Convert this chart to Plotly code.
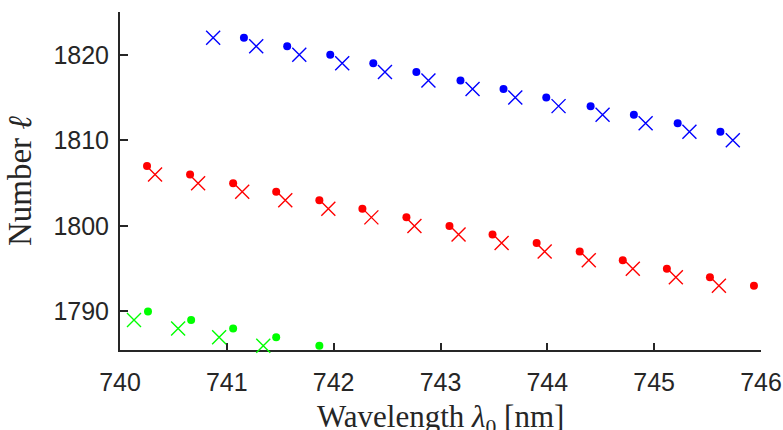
import plotly.graph_objects as go

# Mode numbers and wavelengths (nm)
blue_dot_l = [1822, 1821, 1820, 1819, 1818, 1817, 1816, 1815, 1814, 1813, 1812, 1811]
blue_dot_wl = [741.16, 741.565, 741.968, 742.371, 742.774, 743.187, 743.59, 743.99, 744.405, 744.81, 745.22, 745.62]
blue_x_l = [1822, 1821, 1820, 1819, 1818, 1817, 1816, 1815, 1814, 1813, 1812, 1811, 1810]
blue_x_wl = [740.872, 741.275, 741.678, 742.08, 742.48, 742.887, 743.3, 743.70, 744.105, 744.517, 744.92, 745.33, 745.736]

red_dot_l = [1807, 1806, 1805, 1804, 1803, 1802, 1801, 1800, 1799, 1798, 1797, 1796, 1795, 1794, 1793]
red_dot_wl = [740.253, 740.656, 741.059, 741.462, 741.866, 742.269, 742.681, 743.084, 743.487, 743.9, 744.303, 744.706, 745.119, 745.522, 745.934]
red_x_l = [1806, 1805, 1804, 1803, 1802, 1801, 1800, 1799, 1798, 1797, 1796, 1795, 1794, 1793]
red_x_wl = [740.328, 740.731, 741.144, 741.547, 741.95, 742.353, 742.756, 743.169, 743.572, 743.975, 744.388, 744.8, 745.203, 745.606]

green_dot_l = [1790, 1789, 1788, 1787, 1786]
green_dot_wl = [740.262, 740.666, 741.059, 741.462, 741.866]
green_x_l = [1789, 1788, 1787, 1786]
green_x_wl = [740.131, 740.544, 740.928, 741.341]

x_ticks = [740, 741, 742, 743, 744, 745, 746]
y_ticks = [1790, 1800, 1810, 1820]

x_title = "Wavelength <i>λ</i><sub>0</sub> [nm]"
y_title = "Number <i>ℓ</i>"

fig = go.Figure()

def add(xs, ys, color, kind):
    if kind == "dot":
        marker = dict(symbol="circle", size=8, color=color, line=dict(width=0))
    else:
        marker = dict(symbol="x-thin", size=14, color=color, line=dict(width=1.4, color=color))
    fig.add_trace(go.Scatter(x=xs, y=ys, mode="markers", marker=marker,
                             cliponaxis=False, showlegend=False, hoverinfo="skip"))

add(blue_dot_wl, blue_dot_l, "#0000FF", "dot")
add(blue_x_wl, blue_x_l, "#0000FF", "x")
add(red_dot_wl, red_dot_l, "#FF0000", "dot")
add(red_x_wl, red_x_l, "#FF0000", "x")
add(green_dot_wl, green_dot_l, "#00FF00", "dot")
add(green_x_wl, green_x_l, "#00FF00", "x")

axcol = "#262626"
serif = "Liberation Serif, Times New Roman, serif"
fig.update_layout(
    width=783, height=430,
    margin=dict(l=120, r=22, t=12, b=80),
    paper_bgcolor="white", plot_bgcolor="white",
    font=dict(family="Liberation Sans, Arial, sans-serif", size=25, color=axcol),
    xaxis=dict(range=[740, 746], tickvals=x_ticks, ticks="inside", ticklen=7, tickwidth=2,
               tickcolor=axcol, showline=True, linecolor=axcol, linewidth=2,
               showgrid=False, zeroline=False, ticklabelstandoff=9,
               layer="below traces", automargin=False),
    yaxis=dict(range=[1785.5, 1825], tickvals=y_ticks, ticks="inside", ticklen=8, tickwidth=2,
               tickcolor=axcol, showline=True, linecolor=axcol, linewidth=2,
               showgrid=False, zeroline=False, ticklabelstandoff=4,
               title=dict(text=y_title, standoff=12,
                          font=dict(family=serif, size=33, color=axcol)),
               layer="below traces", automargin=False),
)
fig.add_annotation(text=x_title, xref="paper", yref="paper", x=0.5, y=0,
                   xanchor="center", yanchor="top", yshift=-47, showarrow=False,
                   font=dict(family=serif, size=31, color=axcol))

fig.write_html("out.html")
